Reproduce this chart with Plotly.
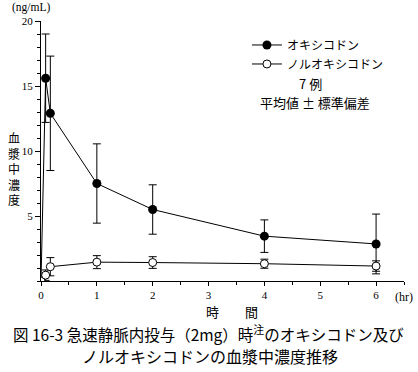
import plotly.graph_objects as go

# Data (hours, ng/mL)
time = [0, 0.083, 0.167, 1, 2, 4, 6]
oxy = [0, 15.6, 12.9, 7.5, 5.5, 3.45, 2.85]
oxy_sd = [None, 3.4, 4.4, 3.05, 1.9, 1.25, 2.3]
nor = [0, 0.45, 1.1, 1.45, 1.42, 1.33, 1.15]
nor_sd = [None, 0.4, 0.7, 0.5, 0.45, 0.35, 0.4]

x_ticks = [0, 1, 2, 3, 4, 5, 6]
y_ticks = [5, 10, 15, 20]

FONT = "Liberation Serif, Noto Sans CJK JP, serif"
JP = "Noto Sans CJK JP, Liberation Serif"

W, H = 418, 372
PL, PR, PT, PB = 40.5, 404.5, 20.5, 281  # plot area in window pixels
L, T = PL, PT
R = W - PR
B = H - PB
PW, PH = PR - PL, PB - PT

fig = go.Figure()
fig.add_trace(go.Scatter(
    x=time, y=oxy, name="オキシコドン", mode="lines+markers",
    line=dict(color="black", width=1),
    marker=dict(symbol="circle", size=9, color="black"),
    error_y=dict(type="data", array=oxy_sd, color="black", thickness=1, width=4),
))
fig.add_trace(go.Scatter(
    x=time, y=nor, name="ノルオキシコドン", mode="lines+markers",
    line=dict(color="black", width=1),
    marker=dict(symbol="circle", size=8, color="white", line=dict(color="black", width=1)),
    error_y=dict(type="data", array=nor_sd, color="black", thickness=1, width=4),
))

fig.update_layout(
    width=W, height=H,
    margin=dict(l=L, r=R, t=T, b=B, autoexpand=False),
    paper_bgcolor="white", plot_bgcolor="white",
    font=dict(family=FONT, color="black", size=11),
    showlegend=True,
    legend=dict(x=(247 - PL) / PW, y=(PB - 30) / PH, xanchor="left", yanchor="top",
                font=dict(family=JP, size=12), bgcolor="rgba(0,0,0,0)",
                itemwidth=30, tracegroupgap=0),
    xaxis=dict(range=[0, 6.5], tickvals=x_ticks, showgrid=False, zeroline=False,
               showline=True, linecolor="black", linewidth=1, automargin=False,
               ticks="outside", ticklen=4, tickcolor="black",
               minor=dict(dtick=0.5, tick0=0, ticks="outside", ticklen=3, tickcolor="black"),
               tickfont=dict(size=11, family=FONT)),
    yaxis=dict(range=[0, 20], tickvals=y_ticks, showgrid=False, zeroline=False,
               showline=True, linecolor="black", linewidth=1, automargin=False,
               ticks="outside", ticklen=5, tickcolor="black",
               minor=dict(dtick=1, tick0=0, ticks="outside", ticklen=3, tickcolor="black"),
               tickfont=dict(size=11, family=FONT)),
)

# positions given in window pixels of the reference
ann = [
    dict(text="(ng/mL)", x=30, y=7, font=dict(size=11.5, family=FONT)),
    dict(text="(hr)", x=404, y=297, font=dict(size=12, family=FONT)),
    dict(text="血<br>漿<br>中<br>濃<br>度", x=13, y=168, font=dict(size=12, family=JP)),
    dict(text="時　　間", x=232, y=312, font=dict(size=13, family=JP)),
    dict(text="7 例", x=311, y=83, font=dict(size=13, family=JP)),
    dict(text="平均値 ± 標準偏差", x=315, y=102, font=dict(size=13, family=JP)),
    dict(text="図 16-3 急速静脈内投与（2mg）時<sup>注</sup>のオキシコドン及び", x=208, y=333,
         font=dict(size=15.5, family=JP)),
    dict(text="ノルオキシコドンの血漿中濃度推移", x=210, y=356, font=dict(size=16, family=JP)),
]
for a in ann:
    px, py = a.pop("x"), a.pop("y")
    fig.add_annotation(
        x=(px - PL) / PW, y=(PB - py) / PH,
        xref="paper", yref="paper", showarrow=False,
        xanchor="center", yanchor="middle", **a)

fig.write_html("out.html", config={"displayModeBar": False},
               post_script="document.body.style.margin='0';")
